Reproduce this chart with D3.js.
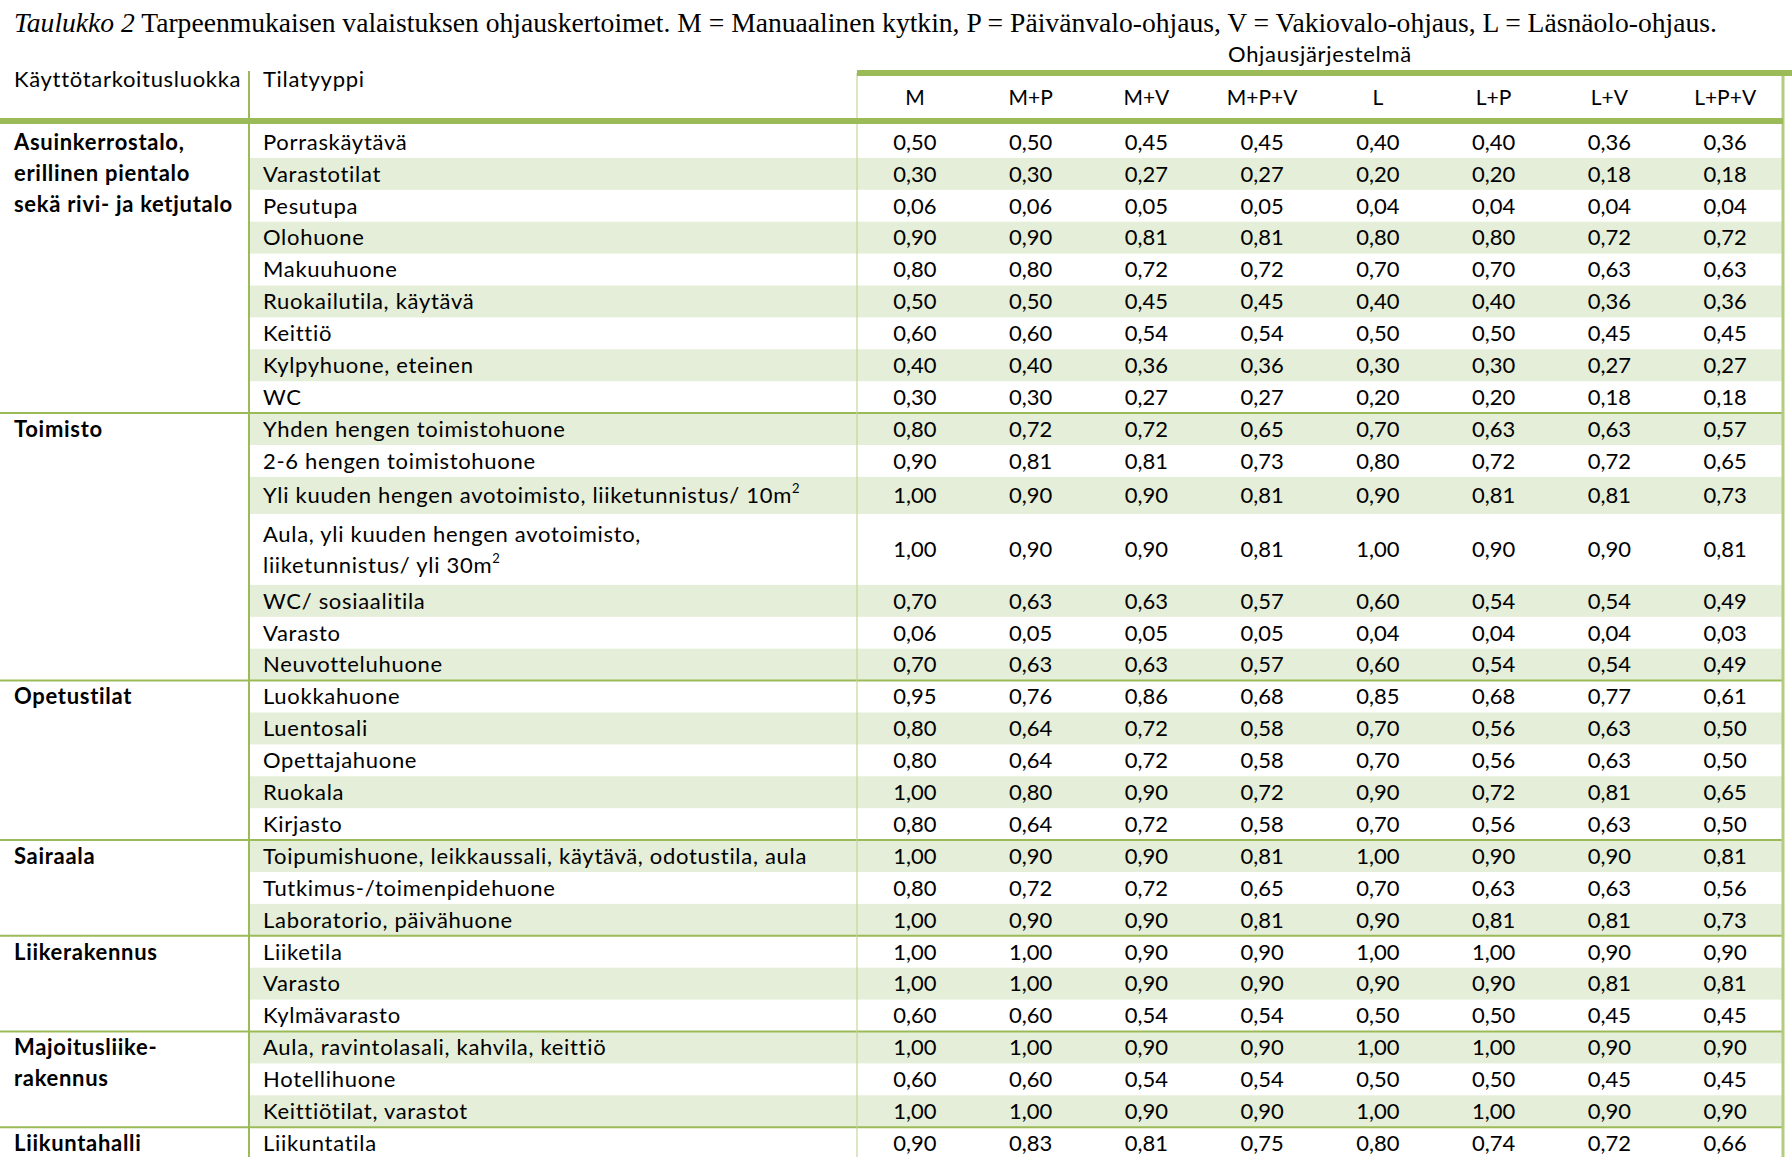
<!DOCTYPE html>
<html><head><meta charset="utf-8">
<script src="https://cdn.jsdelivr.net/npm/d3@7/dist/d3.min.js"></script>
<style>html,body{margin:0;padding:0;background:#fff;overflow:hidden}</style>
</head><body>
<script>
// ---------- DATA ----------
const titleItalic = "Taulukko 2";
const titleText = " Tarpeenmukaisen valaistuksen ohjauskertoimet. M = Manuaalinen kytkin, P = Päivänvalo-ohjaus, V = Vakiovalo-ohjaus, L = Läsnäolo-ohjaus.";
const headerGroup = "Ohjausjärjestelmä";
const headerCat = "Käyttötarkoitusluokka";
const headerRoom = "Tilatyyppi";
const columns = ["M","M+P","M+V","M+P+V","L","L+P","L+V","L+P+V"];

// categories: name lines, number of rooms
const categories = [
  {name:["Asuinkerrostalo,","erillinen pientalo","sekä rivi- ja ketjutalo"], n:9},
  {name:["Toimisto"], n:7},
  {name:["Opetustilat"], n:5},
  {name:["Sairaala"], n:3},
  {name:["Liikerakennus"], n:3},
  {name:["Majoitusliike-","rakennus"], n:3},
  {name:["Liikuntahalli"], n:1}
];
// "^2" marks a superscript 2, "\n" a line break
const rooms = [
  "Porraskäytävä","Varastotilat","Pesutupa","Olohuone","Makuuhuone","Ruokailutila, käytävä","Keittiö","Kylpyhuone, eteinen","WC",
  "Yhden hengen toimistohuone","2-6 hengen toimistohuone","Yli kuuden hengen avotoimisto, liiketunnistus/ 10m^2","Aula, yli kuuden hengen avotoimisto,\nliiketunnistus/ yli 30m^2","WC/ sosiaalitila","Varasto","Neuvotteluhuone",
  "Luokkahuone","Luentosali","Opettajahuone","Ruokala","Kirjasto",
  "Toipumishuone, leikkaussali, käytävä, odotustila, aula","Tutkimus-/toimenpidehuone","Laboratorio, päivähuone",
  "Liiketila","Varasto","Kylmävarasto",
  "Aula, ravintolasali, kahvila, keittiö","Hotellihuone","Keittiötilat, varastot",
  "Liikuntatila"
];
const M    = [0.50,0.30,0.06,0.90,0.80,0.50,0.60,0.40,0.30, 0.80,0.90,1.00,1.00,0.70,0.06,0.70, 0.95,0.80,0.80,1.00,0.80, 1.00,0.80,1.00, 1.00,1.00,0.60, 1.00,0.60,1.00, 0.90];
const MP   = [0.50,0.30,0.06,0.90,0.80,0.50,0.60,0.40,0.30, 0.72,0.81,0.90,0.90,0.63,0.05,0.63, 0.76,0.64,0.64,0.80,0.64, 0.90,0.72,0.90, 1.00,1.00,0.60, 1.00,0.60,1.00, 0.83];
const MV   = [0.45,0.27,0.05,0.81,0.72,0.45,0.54,0.36,0.27, 0.72,0.81,0.90,0.90,0.63,0.05,0.63, 0.86,0.72,0.72,0.90,0.72, 0.90,0.72,0.90, 0.90,0.90,0.54, 0.90,0.54,0.90, 0.81];
const MPV  = [0.45,0.27,0.05,0.81,0.72,0.45,0.54,0.36,0.27, 0.65,0.73,0.81,0.81,0.57,0.05,0.57, 0.68,0.58,0.58,0.72,0.58, 0.81,0.65,0.81, 0.90,0.90,0.54, 0.90,0.54,0.90, 0.75];
const L    = [0.40,0.20,0.04,0.80,0.70,0.40,0.50,0.30,0.20, 0.70,0.80,0.90,1.00,0.60,0.04,0.60, 0.85,0.70,0.70,0.90,0.70, 1.00,0.70,0.90, 1.00,0.90,0.50, 1.00,0.50,1.00, 0.80];
const LP   = [0.40,0.20,0.04,0.80,0.70,0.40,0.50,0.30,0.20, 0.63,0.72,0.81,0.90,0.54,0.04,0.54, 0.68,0.56,0.56,0.72,0.56, 0.90,0.63,0.81, 1.00,0.90,0.50, 1.00,0.50,1.00, 0.74];
const LV   = [0.36,0.18,0.04,0.72,0.63,0.36,0.45,0.27,0.18, 0.63,0.72,0.81,0.90,0.54,0.04,0.54, 0.77,0.63,0.63,0.81,0.63, 0.90,0.63,0.81, 0.90,0.81,0.45, 0.90,0.45,0.90, 0.72];
const LPV  = [0.36,0.18,0.04,0.72,0.63,0.36,0.45,0.27,0.18, 0.57,0.65,0.73,0.81,0.49,0.03,0.49, 0.61,0.50,0.50,0.65,0.50, 0.81,0.56,0.73, 0.90,0.81,0.45, 0.90,0.45,0.90, 0.66];
const series = [M, MP, MV, MPV, L, LP, LV, LPV];

// ---------- LAYOUT ----------
const W = 1792, H = 1157;
const FONT = "Lato, 'Open Sans', sans-serif";
const FS = 22, LS = "0.7px";
const GREEN = "#9bbb59", LIGHT = "#c3d69b", SHADE = "#e5eed8";
const xCat = 14, xRoomLine = 249, xRoom = 263, xData0 = 857, xData1 = 1783;
const rowTop0 = 126, rowH = 31.9, lineH = 31;

const svg = d3.select("body").append("svg").attr("width", W).attr("height", H)
  .style("font-family", FONT);

const x = d3.scaleBand().domain(columns).range([xData0, xData1]);

// compute row geometry
const rowsGeo = [];
let yy = rowTop0;
rooms.forEach((r, i) => {
  const lines = r.split("\n").length;
  const sup = r.includes("^2") && lines === 1;
  const h = lines > 1 ? 71 : (sup ? 37 : rowH);
  rowsGeo.push({i, top: yy, h, lines});
  yy += h;
});
const fmt = v => d3.format(".2f")(v).replace(".", ",");

// shading
svg.append("g").selectAll("rect").data(rowsGeo.filter(d => d.i % 2 === 1)).join("rect")
  .attr("x", xRoomLine).attr("y", d => d.top).attr("width", xData1 - xRoomLine).attr("height", d => d.h)
  .attr("fill", SHADE);

// group separators
let gi = 0;
const groupStarts = [];
categories.forEach(c => { groupStarts.push(gi); gi += c.n; });
svg.append("g").selectAll("line").data(groupStarts.slice(1)).join("line")
  .attr("x1", 0).attr("x2", xData1).attr("y1", d => rowsGeo[d].top).attr("y2", d => rowsGeo[d].top)
  .attr("stroke", GREEN).attr("stroke-width", 2);

// vertical lines
svg.append("line").attr("x1", xRoomLine).attr("x2", xRoomLine).attr("y1", 71).attr("y2", H)
  .attr("stroke", GREEN).attr("stroke-width", 2);
svg.append("line").attr("x1", xData0).attr("x2", xData0).attr("y1", 73).attr("y2", H)
  .attr("stroke", LIGHT).attr("stroke-width", 1.2);
svg.append("line").attr("x1", xData1).attr("x2", xData1).attr("y1", 70).attr("y2", H)
  .attr("stroke", "#b3cc80").attr("stroke-width", 3);

// thick header lines
svg.append("rect").attr("x", xData0).attr("y", 70).attr("width", W - xData0).attr("height", 6).attr("fill", GREEN);
svg.append("rect").attr("x", 0).attr("y", 118).attr("width", xData1).attr("height", 6).attr("fill", GREEN);

// title
const t = svg.append("text").attr("x", 14).attr("y", 32)
  .style("font-family", "'Liberation Serif', 'Times New Roman', serif").style("font-size", "27.6px").attr("fill", "#000");
t.append("tspan").style("font-style", "italic").text(titleItalic);
t.append("tspan").text(titleText);

// headers
svg.append("text").attr("x", (xData0 + xData1) / 2).attr("y", 62).attr("text-anchor", "middle")
  .style("font-size", FS + "px").style("letter-spacing", LS).text(headerGroup);
svg.append("text").attr("x", xCat).attr("y", 87).style("font-size", FS + "px").style("letter-spacing", LS).text(headerCat);
svg.append("text").attr("x", xRoom).attr("y", 87).style("font-size", FS + "px").style("letter-spacing", LS).text(headerRoom);
svg.append("g").selectAll("text").data(columns).join("text")
  .attr("x", d => x(d) + x.bandwidth() / 2).attr("y", 105).attr("text-anchor", "middle")
  .style("font-size", "21px").text(d => d);

// room labels
const base = 7.8;
const roomG = svg.append("g");
rowsGeo.forEach(g => {
  const lines = rooms[g.i].split("\n");
  const c = g.top + g.h / 2;
  lines.forEach((ln, k) => {
    const yline = c + (k - (lines.length - 1) / 2) * lineH + base;
    const te = roomG.append("text").attr("x", xRoom).attr("y", yline)
      .style("font-size", FS + "px").style("letter-spacing", LS);
    const parts = ln.split("^2");
    te.append("tspan").text(parts[0]);
    if (parts.length > 1) {
      te.append("tspan").attr("dy", -10).style("font-size", "13px").text("2");
    }
  });
});

// values
const valG = svg.append("g");
columns.forEach((col, ci) => {
  valG.append("g").selectAll("text").data(series[ci]).join("text")
    .attr("x", x(col) + x.bandwidth() / 2)
    .attr("y", (d, i) => rowsGeo[i].top + rowsGeo[i].h / 2 + base)
    .attr("text-anchor", "middle").style("font-size", FS + "px")
    .text(d => fmt(d));
});

// category labels
const catG = svg.append("g");
categories.forEach((c, k) => {
  const g = rowsGeo[groupStarts[k]];
  c.name.forEach((ln, j) => {
    catG.append("text").attr("x", xCat).attr("y", g.top + 16 + base + j * lineH)
      .style("font-size", FS + "px").style("letter-spacing", LS).style("font-weight", "bold").text(ln);
  });
});
</script>
</body></html>
